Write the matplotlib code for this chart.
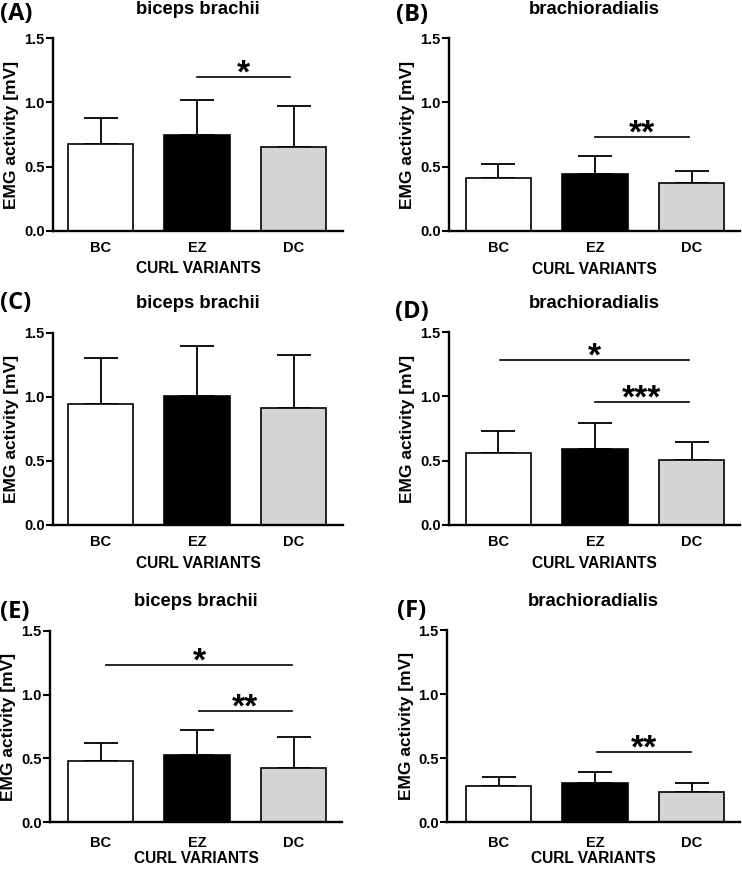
import numpy as np
import matplotlib
matplotlib.use("Agg")
import matplotlib.pyplot as plt

plt.rcParams['font.family'] = ['Liberation Sans', 'DejaVu Sans']
plt.rcParams['font.weight'] = 'bold'

# Data
variants = ["BC", "EZ", "DC"]
bar_colors = ["white", "black", "#d4d4d4"]
panel_letters = ["(A)", "(B)", "(C)", "(D)", "(E)", "(F)"]
muscles = ["biceps brachii", "brachioradialis"] * 3

mean_A = [0.676, 0.746, 0.655]
sd_A = [0.200, 0.273, 0.317]
mean_B = [0.408, 0.439, 0.369]
sd_B = [0.112, 0.143, 0.096]
mean_C = [0.943, 1.008, 0.909]
sd_C = [0.359, 0.388, 0.414]
mean_D = [0.562, 0.593, 0.504]
sd_D = [0.166, 0.197, 0.138]
mean_E = [0.483, 0.530, 0.425]
sd_E = [0.135, 0.190, 0.243]
mean_F = [0.283, 0.304, 0.239]
sd_F = [0.071, 0.091, 0.068]

# significance bars: (x start, x end, y, label)
sig_A = [(1.0, 1.96, 1.20, "*")]
sig_B = [(1.0, 1.97, 0.733, "**")]
sig_C = []
sig_D = [(0.02, 1.97, 1.282, "*"), (1.0, 1.97, 0.954, "***")]
sig_E = [(0.06, 1.98, 1.231, "*"), (1.02, 1.98, 0.874, "**")]
sig_F = [(1.02, 1.99, 0.551, "**")]

means = [mean_A, mean_B, mean_C, mean_D, mean_E, mean_F]
sds = [sd_A, sd_B, sd_C, sd_D, sd_E, sd_F]
sigs = [sig_A, sig_B, sig_C, sig_D, sig_E, sig_F]

W, H = 742, 869
fig = plt.figure(figsize=(W / 100, H / 100), dpi=100)

# axes geometry in pixels: spine x, right end x, top y, bottom y, first bar centre
geo = [
    (53, 343, 38.3, 230.7, 100.5),
    (449, 740, 38.3, 230.7, 498.5),
    (53, 343, 332.7, 524.7, 100.5),
    (449, 740, 332.3, 524.7, 498.5),
    (50, 342, 630.7, 822.3, 100.5),
    (447, 740, 630.0, 822.3, 498.5),
]
letter_pos = [(16, 14), (412, 15), (16, 303), (412, 312), (15, 612), (412, 611)]
tick_pad = [7.5, 7.5, 7.5, 7.5, 10, 10]
xlab_off = [38, 39, 39, 39, 36, 36]
spacing = 96.5

for i in range(6):
    x0, x1, yt, yb, c0 = geo[i]
    ax = fig.add_axes([x0 / W, 1 - yb / H, (x1 - x0) / W, (yb - yt) / H])
    x = np.arange(3)
    ax.bar(x, means[i], width=0.674, color=bar_colors, edgecolor="black",
           linewidth=1.2, zorder=2)
    ax.errorbar(x, means[i], yerr=[[0, 0, 0], sds[i]], fmt="none", ecolor="black",
                elinewidth=1.3, capsize=12, capthick=1.3, zorder=1)
    ax.set_xlim((x0 - c0) / spacing, (x1 - c0) / spacing)
    ax.set_ylim(0, 1.5)
    ax.set_yticks([0, 0.5, 1.0, 1.5])
    ax.set_yticklabels(["0.0", "0.5", "1.0", "1.5"])
    ax.set_xticks(x)
    ax.set_xticklabels(variants)
    for s in ["top", "right"]:
        ax.spines[s].set_visible(False)
    for s in ["left", "bottom"]:
        ax.spines[s].set_linewidth(1.7)
    ax.tick_params(axis="y", length=5, width=1.5, labelsize=10.5, pad=1)
    ax.tick_params(axis="x", length=0, labelsize=10.5, pad=tick_pad[i])
    ax.set_ylabel("EMG activity [mV]", fontsize=12.5, fontweight="bold")
    ax.yaxis.set_label_coords(-41 / (x1 - x0), 0.5)
    ax.yaxis.label.set_va("center")
    ax.set_xlabel("CURL VARIANTS", fontsize=11.2, fontweight="bold")
    ax.xaxis.set_label_coords(0.5, -xlab_off[i] / (yb - yt))
    ax.xaxis.label.set_va("center")
    ax.text(0.5, 1.15, muscles[i], transform=ax.transAxes, ha="center", va="center",
            fontsize=13.3, fontweight="bold")
    for xs, xe, ys, lab in sigs[i]:
        ax.plot([xs, xe], [ys, ys], color="black", lw=1.2, clip_on=False)
        ax.annotate(lab, xy=((xs + xe) / 2, ys), xytext=(0, -4), textcoords="offset points",
                    ha="center", va="baseline", fontsize=24, fontweight="bold")
    lx, ly = letter_pos[i]
    fig.text(lx / W, 1 - ly / H, panel_letters[i], ha="center", va="center",
             fontsize=17, fontweight="bold", family=["Open Sans", "DejaVu Sans"])

fig.savefig("out.png", dpi=100)
